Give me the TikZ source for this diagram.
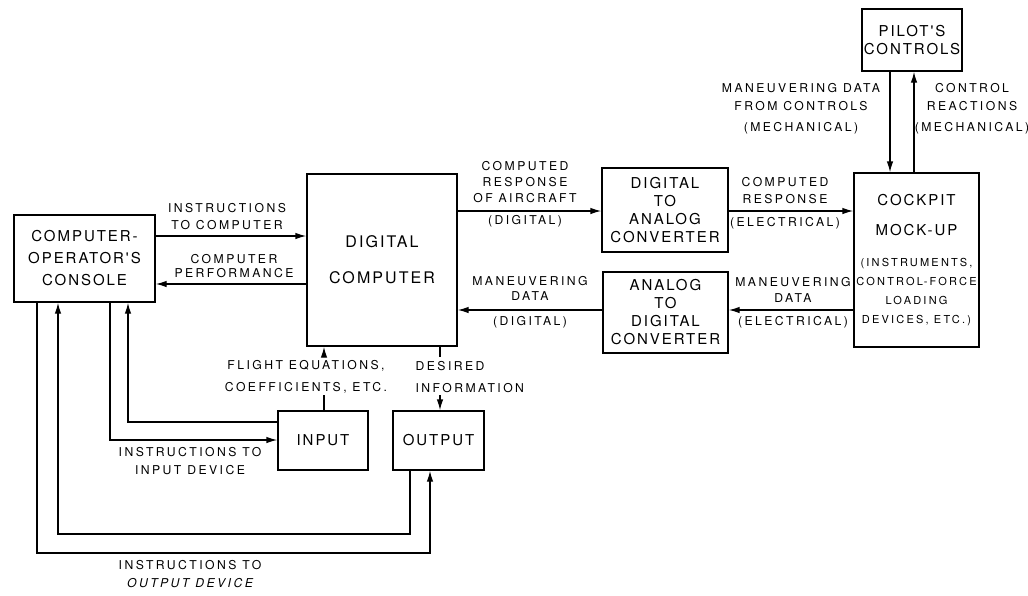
\documentclass[tikz,border=0pt]{standalone}
\usepackage{fontspec}
\setmainfont{TeX Gyre Heros}
\newfontfamily\labf[LetterSpace=20]{TeX Gyre Heros}
\newfontfamily\boxf[LetterSpace=13]{TeX Gyre Heros}
\usetikzlibrary{arrows.meta}
\begin{document}
\begin{tikzpicture}[x=1pt,y=-1pt,line width=1.3pt,
  blk/.style={draw,rectangle,inner sep=0pt,align=center,font=\boxf\fontsize{15}{18}\selectfont},
  lbl/.style={align=center,inner sep=0pt,font=\labf\fontsize{12.2}{17}\selectfont},
  arr/.style={-{Latex[length=11pt,width=6.5pt]}}]
\useasboundingbox (0,0) rectangle (1028,595);
% boxes
\node[blk,minimum width=141pt,minimum height=87pt,font=\boxf\fontsize{15}{22}\selectfont] (con) at (84.5,258.5) {COMPUTER-\\OPERATOR'S\\CONSOLE};
\node[blk,minimum width=150pt,minimum height=172pt,font=\boxf\fontsize{16}{36}\selectfont] (dc) at (382,260) {DIGITAL\\COMPUTER};
\node[blk,minimum width=126pt,minimum height=84pt] (da) at (665,210) {DIGITAL\\TO\\ANALOG\\CONVERTER};
\node[blk,minimum width=125pt,minimum height=81pt] (ad) at (665.5,312.5) {ANALOG\\TO\\DIGITAL\\CONVERTER};
\node[blk,minimum width=125pt,minimum height=174pt] (cock) at (916.5,260) {};
\node[align=center,inner sep=0pt,font=\boxf\fontsize{15}{30}\selectfont] (cockt) at (916.5,215) {COCKPIT\\MOCK-UP};
\node[align=center,inner sep=0pt,font=\labf\fontsize{11}{19}\selectfont] (cockd) at (916.5,292) {(INSTRUMENTS,\\CONTROL-FORCE\\LOADING\\DEVICES, ETC.)};
\node[blk,minimum width=100pt,minimum height=62pt] (pil) at (912,40) {PILOT'S\\CONTROLS};
\node[blk,minimum width=90pt,minimum height=59pt] (inp) at (323,440.5) {INPUT};
\node[blk,minimum width=91pt,minimum height=59pt] (out) at (438.5,440.5) {OUTPUT};
% coordinates
\coordinate (y1) at (0,236);
\coordinate (y2) at (0,284);
\coordinate (y3) at (0,211);
\coordinate (y5) at (0,310);
\coordinate (c7) at (890,0);
\coordinate (c8) at (914,0);
\coordinate (c9a) at (37,553);
\coordinate (c9b) at (430,553);
\coordinate (c10a) at (410,534);
\coordinate (c10b) at (58,534);
\coordinate (c11) at (110,440);
\coordinate (c12) at (128,422);
\coordinate (c13a) at (324,395);
\coordinate (c13b) at (324,357);
\coordinate (c14a) at (440,357);
\coordinate (c14b) at (440,395);
% connectors
\draw[arr] (con.east |- y1) -- (dc.west |- y1);
\draw[arr] (dc.west |- y2) -- (con.east |- y2);
\draw[arr] (dc.east |- y3) -- (da.west |- y3);
\draw[arr] (da.east |- y3) -- (cock.west |- y3);
\draw[arr] (cock.west |- y5) -- (ad.east |- y5);
\draw[arr] (ad.west |- y5) -- (dc.east |- y5);
\draw[arr] (pil.south -| c7) -- (cock.north -| c7);
\draw[arr] (cock.north -| c8) -- (pil.south -| c8);
\draw[arr] (con.south -| c9a) -- (c9a) -- (c9b) -- (out.south -| c9b);
\draw[arr] (out.south -| c10a) -- (c10a) -- (c10b) -- (con.south -| c10b);
\draw[arr] (con.south -| c11) -- (c11) -- (inp.west |- c11);
\draw[arr] (inp.west |- c12) -- (c12) -- (con.south -| c12);
\draw (inp.north -| c13a) -- (c13a);
\draw[arr] (c13b) -- (dc.south -| c13b);
\draw (dc.south -| c14a) -- (c14a);
\draw[arr] (c14b) -- (out.north -| c14b);
% labels
\node[lbl] (la) at (227,216.75) {INSTRUCTIONS\\TO COMPUTER};
\node[lbl] (lb) at (234,266) {COMPUTER\\[-3.5pt]PERFORMANCE};
\node[lbl] (lc) at (525,194) {COMPUTED\\[-1pt]RESPONSE\\[-1pt]OF AIRCRAFT\\[5pt](DIGITAL)};
\node[lbl] (ld) at (530,302) {MANEUVERING\\[-2pt]DATA\\[8pt](DIGITAL)};
\node[lbl] (le) at (785,203) {COMPUTED\\RESPONSE\\[6pt](ELECTRICAL)};
\node[lbl] (lf) at (793,302.5) {MANEUVERING\\[-1pt]DATA\\[6pt](ELECTRICAL)};
\node[lbl] (lg) at (801,108.5) {MANEUVERING DATA\\[1pt]FROM CONTROLS\\[4pt](MECHANICAL)};
\node[lbl] (lh) at (972,108.5) {CONTROL\\[1pt]REACTIONS\\[4pt](MECHANICAL)};
\node[lbl] (li) at (306,376.75) {FLIGHT EQUATIONS,\\[4.5pt]COEFFICIENTS, ETC.};
\node[lbl,align=left,anchor=west] (lj) at (415,377) {DESIRED\\[5pt]INFORMATION};
\node[lbl] (lk) at (190,461) {INSTRUCTIONS TO\\[1pt]INPUT DEVICE};
\node[lbl] (ll) at (190,574) {INSTRUCTIONS TO\\[1pt]{\itshape OUTPUT DEVICE}};
\end{tikzpicture}
\end{document}
